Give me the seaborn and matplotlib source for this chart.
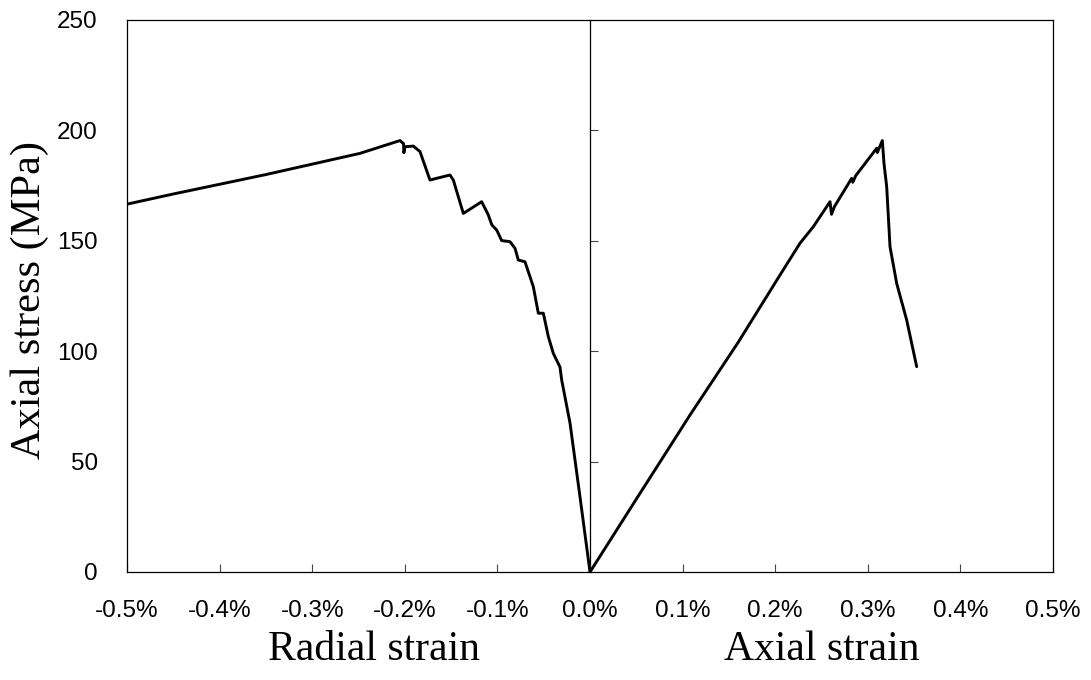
import matplotlib
matplotlib.use("Agg")
import matplotlib.pyplot as plt
import matplotlib.transforms as mtransforms
import seaborn as sns
from matplotlib.ticker import FuncFormatter

# strain in %, stress in MPa
radial_strain = [0.0, -0.0108, -0.0216, -0.0306, -0.0324, -0.0396, -0.045, -0.0504, -0.0558,
                 -0.0612, -0.0702, -0.0774, -0.081, -0.0864, -0.0954, -0.1008, -0.106, -0.1098,
                 -0.117, -0.1368, -0.1476, -0.1512, -0.1656, -0.1728, -0.1836, -0.1908, -0.1998,
                 -0.2010, -0.2014, -0.2052, -0.2484, -0.35, -0.45, -0.5]
radial_stress = [0.0, 34.0, 67.5, 87.0, 92.8, 99.0, 106.6, 117.2, 117.2,
                 129.2, 140.5, 141.3, 146.6, 149.6, 150.1, 154.9, 157.2, 161.7,
                 167.7, 162.4, 177.5, 179.8, 178.3, 177.5, 190.4, 192.9, 192.6,
                 189.9, 194.0, 195.4, 189.6, 180.0, 171.2, 166.6]

axial_strain = [0.0, 0.05, 0.108, 0.16, 0.2052, 0.2268, 0.2412, 0.2592, 0.2608, 0.2640,
                0.2826, 0.2838, 0.2870, 0.3096, 0.3103, 0.3157, 0.3175, 0.3204, 0.324,
                0.3312, 0.342, 0.3528]
axial_stress = [0.0, 33.0, 71.1, 104.0, 134.5, 148.9, 156.4, 167.7, 162.0, 165.5,
                178.3, 176.5, 179.5, 191.9, 190.0, 195.4, 185.0, 174.5, 147.3,
                130.7, 114.1, 93.0]

x_ticks = [-0.5, -0.4, -0.3, -0.2, -0.1, 0.0, 0.1, 0.2, 0.3, 0.4, 0.5]
y_ticks = [0, 50, 100, 150, 200, 250]

sns.set_style("white")
plt.rcParams['axes.unicode_minus'] = False
plt.rcParams['font.family'] = ['Liberation Sans', 'DejaVu Sans']
plt.rcParams['text.color'] = 'black'
plt.rcParams['xtick.labelcolor'] = 'black'
plt.rcParams['ytick.labelcolor'] = 'black'

fig, ax = plt.subplots(figsize=(10.91, 6.8), dpi=100)
fig.subplots_adjust(left=127/1091, right=1053/1091, top=1-20/680, bottom=1-572/680)

sns.lineplot(x=radial_strain, y=radial_stress, sort=False, estimator=None,
             color='black', lw=2.1, ax=ax)
sns.lineplot(x=axial_strain, y=axial_stress, sort=False, estimator=None,
             color='black', lw=2.1, ax=ax)

ax.set_xlim(-0.5, 0.5)
ax.set_ylim(0, 250)
ax.set_xticks(x_ticks)
ax.set_yticks(y_ticks)
ax.xaxis.set_major_formatter(FuncFormatter(lambda v, _: f"{v:.1f}%"))
ax.tick_params(axis='x', direction='in', length=6, width=0.8, color='#444444',
               labelsize=17.5, pad=20, bottom=True, labelcolor='black')
ax.tick_params(axis='y', length=0, labelsize=17.5, pad=21, labelcolor='black')

for s in ax.spines.values():
    s.set_color('black')
    s.set_linewidth(0.9)

# middle axis with ticks
sec = ax.secondary_yaxis(0.5)
sec.set_yticks([50, 100, 150, 200])
sec.tick_params(axis='y', direction='out', length=6, width=0.8, color='#444444',
                labelleft=False, labelright=False)
for s in sec.spines.values():
    s.set_linewidth(0.9)
    s.set_color('black')

trans = mtransforms.blended_transform_factory(ax.transData, ax.transAxes)
ax.text(-0.233, -0.141, 'Radial strain', transform=trans, ha='center', va='center',
        fontsize=30, color='black', family=['Liberation Serif'])
ax.text(0.25, -0.141, 'Axial strain', transform=trans, ha='center', va='center',
        fontsize=30, color='black', family=['Liberation Serif'])
fig.text(30/1091, 1-300/680, 'Axial stress (MPa)', rotation=90, ha='center', va='center',
         fontsize=30.5, color='black', family=['Liberation Serif'])

plt.savefig("out.png", dpi=100)
